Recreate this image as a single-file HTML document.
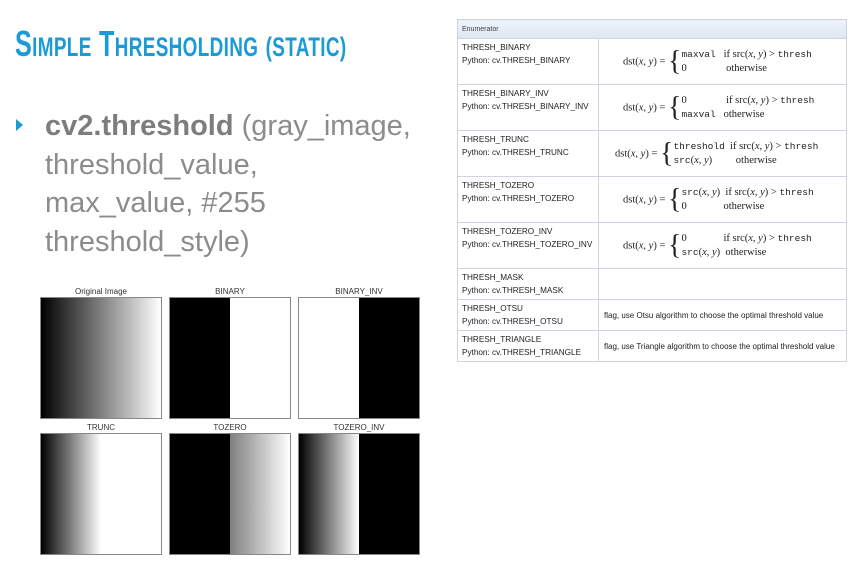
<!DOCTYPE html>
<html><head><meta charset="utf-8"><style>
body{margin:0;width:853px;height:569px;background:#fff;position:relative;overflow:hidden;font-family:"Liberation Sans",sans-serif}
.a{position:absolute}
.title{left:15px;top:23px;font-weight:bold;color:#1a9ad6;font-size:36px;white-space:nowrap;transform:scaleX(0.70);transform-origin:left top;letter-spacing:0.5px}
.title small{font-size:27px}
.body{left:45px;color:#8c8c8c;font-size:29px;line-height:38.5px;top:107px;white-space:nowrap}
.body b{color:#7d7d7d}
.panel{position:absolute;width:122px;height:122px;border:1px solid #888;box-sizing:border-box}
.lbl{position:absolute;font-size:8px;color:#333;width:124px;text-align:center}
table{position:absolute;left:457px;top:19px;width:390px;border-collapse:collapse;font-size:8.2px;color:#222;border:1px solid #c8d0dc}
td{border:1px solid #cfd5de;padding:0 4px;vertical-align:middle;line-height:13px}
td.n{vertical-align:top;padding-top:2px}
.hd td{background:linear-gradient(#eef3fa,#dde6f2);height:18px;font-size:7px;color:#444}
.f{font-family:"Liberation Serif",serif;font-size:10.5px;white-space:nowrap}
.m{font-family:"Liberation Mono",monospace;font-size:9.5px}
.brace{font-size:28px;vertical-align:middle;font-weight:100;line-height:20px}
.fl{font-size:8px;white-space:nowrap;padding-left:5px}
</style></head><body>
<div class="a title">S<small>IMPLE</small> T<small>HRESHOLDING</small> <small>(STATIC)</small></div>
<div class="a" style="left:16px;top:119px;width:0;height:0;border-top:6.5px solid transparent;border-bottom:6.5px solid transparent;border-left:7px solid #1a9ad6"></div>
<div class="a body"><b>cv2.threshold</b> (gray_image,<br>threshold_value,<br>max_value, #255<br>threshold_style)</div>

<div class="lbl" style="left:39px;top:287px">Original Image</div>
<div class="lbl" style="left:168px;top:287px">BINARY</div>
<div class="lbl" style="left:297px;top:287px">BINARY_INV</div>
<div class="lbl" style="left:39px;top:423px">TRUNC</div>
<div class="lbl" style="left:168px;top:423px">TOZERO</div>
<div class="lbl" style="left:297px;top:423px">TOZERO_INV</div>
<div class="panel" style="left:40px;top:297px;background:linear-gradient(90deg,#000,#fff)"></div>
<div class="panel" style="left:169px;top:297px;background:linear-gradient(90deg,#000 50%,#fff 50%)"></div>
<div class="panel" style="left:298px;top:297px;background:linear-gradient(90deg,#fff 50%,#000 50%)"></div>
<div class="panel" style="left:40px;top:433px;background:linear-gradient(90deg,#000,#fff 50%,#fff)"></div>
<div class="panel" style="left:169px;top:433px;background:linear-gradient(90deg,#000 50%,#7f7f7f 50%,#fff)"></div>
<div class="panel" style="left:298px;top:433px;background:linear-gradient(90deg,#000,#fff 50%,#000 50%)"></div>

<table>
<tr class="hd"><td colspan="2">Enumerator</td></tr>
<tr style="height:46px"><td class="n" style="width:132px">THRESH_BINARY<br>Python: cv.THRESH_BINARY</td><td class="f" style="padding-left:24px">dst(<i>x</i>, <i>y</i>) = <span class="brace">{</span><span style="display:inline-block;vertical-align:middle;line-height:14px"><span class="m">maxval</span>&nbsp;&nbsp; if src(<i>x</i>, <i>y</i>) &gt; <span class="m">thresh</span><br>0 &nbsp;&nbsp;&nbsp;&nbsp;&nbsp;&nbsp;&nbsp;&nbsp;&nbsp;&nbsp;&nbsp;&nbsp;&nbsp; otherwise</span></td></tr>
<tr style="height:46px"><td class="n">THRESH_BINARY_INV<br>Python: cv.THRESH_BINARY_INV</td><td class="f" style="padding-left:24px">dst(<i>x</i>, <i>y</i>) = <span class="brace">{</span><span style="display:inline-block;vertical-align:middle;line-height:14px">0 &nbsp;&nbsp;&nbsp;&nbsp;&nbsp;&nbsp;&nbsp;&nbsp;&nbsp;&nbsp;&nbsp;&nbsp;&nbsp; if src(<i>x</i>, <i>y</i>) &gt; <span class="m">thresh</span><br><span class="m">maxval</span>&nbsp;&nbsp; otherwise</span></td></tr>
<tr style="height:46px"><td class="n">THRESH_TRUNC<br>Python: cv.THRESH_TRUNC</td><td class="f" style="padding-left:16px">dst(<i>x</i>, <i>y</i>) = <span class="brace">{</span><span style="display:inline-block;vertical-align:middle;line-height:14px"><span class="m">threshold</span>&nbsp; if src(<i>x</i>, <i>y</i>) &gt; <span class="m">thresh</span><br><span class="m">src</span>(<i>x</i>, <i>y</i>) &nbsp;&nbsp;&nbsp;&nbsp;&nbsp;&nbsp;&nbsp; otherwise</span></td></tr>
<tr style="height:46px"><td class="n">THRESH_TOZERO<br>Python: cv.THRESH_TOZERO</td><td class="f" style="padding-left:24px">dst(<i>x</i>, <i>y</i>) = <span class="brace">{</span><span style="display:inline-block;vertical-align:middle;line-height:14px"><span class="m">src</span>(<i>x</i>, <i>y</i>)&nbsp; if src(<i>x</i>, <i>y</i>) &gt; <span class="m">thresh</span><br>0 &nbsp;&nbsp;&nbsp;&nbsp;&nbsp;&nbsp;&nbsp;&nbsp;&nbsp;&nbsp;&nbsp;&nbsp; otherwise</span></td></tr>
<tr style="height:46px"><td class="n">THRESH_TOZERO_INV<br>Python: cv.THRESH_TOZERO_INV</td><td class="f" style="padding-left:24px">dst(<i>x</i>, <i>y</i>) = <span class="brace">{</span><span style="display:inline-block;vertical-align:middle;line-height:14px">0 &nbsp;&nbsp;&nbsp;&nbsp;&nbsp;&nbsp;&nbsp;&nbsp;&nbsp;&nbsp;&nbsp;&nbsp; if src(<i>x</i>, <i>y</i>) &gt; <span class="m">thresh</span><br><span class="m">src</span>(<i>x</i>, <i>y</i>)&nbsp; otherwise</span></td></tr>
<tr style="height:31px"><td class="n">THRESH_MASK<br>Python: cv.THRESH_MASK</td><td></td></tr>
<tr style="height:31px"><td class="n">THRESH_OTSU<br>Python: cv.THRESH_OTSU</td><td class="fl">flag, use Otsu algorithm to choose the optimal threshold value</td></tr>
<tr style="height:31px"><td class="n">THRESH_TRIANGLE<br>Python: cv.THRESH_TRIANGLE</td><td class="fl">flag, use Triangle algorithm to choose the optimal threshold value</td></tr>
</table>
</body></html>
